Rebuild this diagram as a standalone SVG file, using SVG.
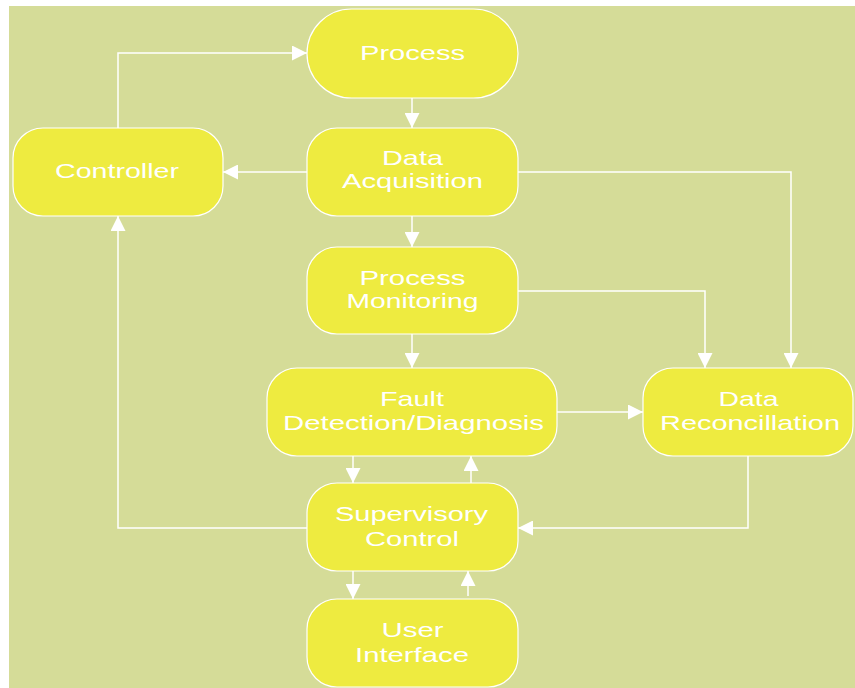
<svg xmlns="http://www.w3.org/2000/svg" width="855" height="688" viewBox="0 0 855 688">
<style>
.node{fill:#eeeb40;stroke:#ffffff;stroke-width:1.2}
.lbl{font-family:"Liberation Sans",Arial,sans-serif;font-size:21px;fill:#ffffff;text-anchor:middle}
.edge{fill:none;stroke:#ffffff;stroke-width:1.5}
</style>
<defs>
<marker id="arr" markerUnits="userSpaceOnUse" markerWidth="15" markerHeight="15" refX="15" refY="7.5" orient="auto">
<path d="M0,0 L15,7.5 L0,15 z" fill="#ffffff"/>
</marker>
</defs>
<rect x="0" y="0" width="855" height="688" fill="#ffffff"/>
<rect x="9" y="6" width="846" height="682" fill="#d5dc98"/>
<g id="connectors">
<path class="edge" marker-end="url(#arr)" d="M118,128 V53 H307"/>
<path class="edge" marker-end="url(#arr)" d="M412,98 V128"/>
<path class="edge" marker-end="url(#arr)" d="M307,172 H223"/>
<path class="edge" marker-end="url(#arr)" d="M517,172 H791 V368"/>
<path class="edge" marker-end="url(#arr)" d="M412,216 V247"/>
<path class="edge" marker-end="url(#arr)" d="M517,291 H705 V368"/>
<path class="edge" marker-end="url(#arr)" d="M412,334 V368"/>
<path class="edge" marker-end="url(#arr)" d="M557,412 H643"/>
<path class="edge" marker-end="url(#arr)" d="M748,456 V528 H518"/>
<path class="edge" marker-end="url(#arr)" d="M307,528 H118 V216"/>
<path class="edge" marker-end="url(#arr)" d="M353,456 V483"/>
<path class="edge" marker-end="url(#arr)" d="M471,483 V456"/>
<path class="edge" marker-end="url(#arr)" d="M353,571 V599"/>
<path class="edge" marker-end="url(#arr)" d="M468,596 V571"/>
</g>
<g id="process">
<rect class="node" x="307" y="9" width="211" height="89" rx="44.5"/>
<text class="lbl" x="412.5" y="60" textLength="105" lengthAdjust="spacingAndGlyphs">Process</text>
</g>
<g id="controller">
<rect class="node" x="13" y="128" width="210" height="88" rx="30"/>
<text class="lbl" x="117" y="178" textLength="124" lengthAdjust="spacingAndGlyphs">Controller</text>
</g>
<g id="data-acquisition">
<rect class="node" x="307" y="128" width="211" height="88" rx="30"/>
<text class="lbl" x="412.5" y="165" textLength="61" lengthAdjust="spacingAndGlyphs">Data</text>
<text class="lbl" x="412.5" y="188" textLength="141" lengthAdjust="spacingAndGlyphs">Acquisition</text>
</g>
<g id="process-monitoring">
<rect class="node" x="307" y="247" width="211" height="87" rx="30"/>
<text class="lbl" x="412.5" y="285" textLength="106" lengthAdjust="spacingAndGlyphs">Process</text>
<text class="lbl" x="412.5" y="308" textLength="132" lengthAdjust="spacingAndGlyphs">Monitoring</text>
</g>
<g id="fault-detection">
<rect class="node" x="267" y="368" width="290" height="88" rx="30"/>
<text class="lbl" x="412" y="405.5" textLength="64" lengthAdjust="spacingAndGlyphs">Fault</text>
<text class="lbl" x="413.5" y="430" textLength="261" lengthAdjust="spacingAndGlyphs">Detection/Diagnosis</text>
</g>
<g id="data-reconcillation">
<rect class="node" x="643" y="368" width="210" height="88" rx="30"/>
<text class="lbl" x="748.5" y="406" textLength="60" lengthAdjust="spacingAndGlyphs">Data</text>
<text class="lbl" x="750" y="429.5" textLength="180" lengthAdjust="spacingAndGlyphs">Reconcillation</text>
</g>
<g id="supervisory-control">
<rect class="node" x="307" y="483" width="211" height="88" rx="30"/>
<text class="lbl" x="411.5" y="521" textLength="153" lengthAdjust="spacingAndGlyphs">Supervisory</text>
<text class="lbl" x="412" y="545.5" textLength="94" lengthAdjust="spacingAndGlyphs">Control</text>
</g>
<g id="user-interface">
<rect class="node" x="307" y="599" width="211" height="88" rx="30"/>
<text class="lbl" x="412.5" y="636.5" textLength="62" lengthAdjust="spacingAndGlyphs">User</text>
<text class="lbl" x="412" y="661.5" textLength="114" lengthAdjust="spacingAndGlyphs">Interface</text>
</g>
</svg>
